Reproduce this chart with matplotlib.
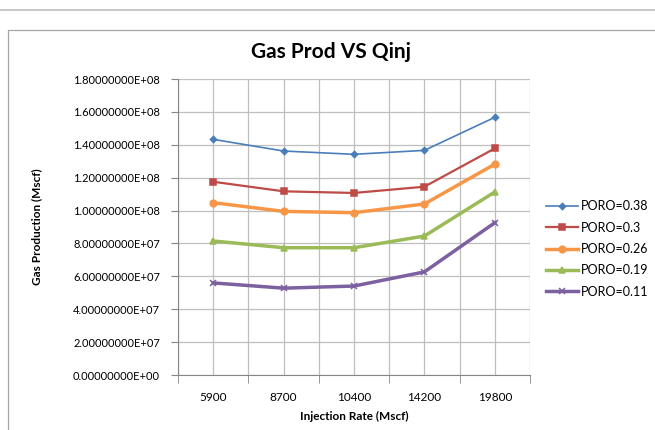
import matplotlib
matplotlib.use("Agg")

import matplotlib.pyplot as plt
from matplotlib.ticker import FuncFormatter, FixedLocator

# Data
rates = ["5900", "8700", "10400", "14200", "19800"]
poro_038 = [1.433e8, 1.362e8, 1.342e8, 1.366e8, 1.567e8]
poro_030 = [1.175e8, 1.117e8, 1.107e8, 1.145e8, 1.378e8]
poro_026 = [1.048e8, 0.995e8, 0.987e8, 1.040e8, 1.282e8]
poro_019 = [0.815e8, 0.774e8, 0.774e8, 0.845e8, 1.113e8]
poro_011 = [0.560e8, 0.528e8, 0.541e8, 0.627e8, 0.926e8]
labels = ["PORO=0.38", "PORO=0.3", "PORO=0.26", "PORO=0.19", "PORO=0.11"]

plt.rcParams["font.family"] = ["Lato", "DejaVu Sans"]

fig = plt.figure(figsize=(6.55, 4.3), dpi=100)

# chart frame like the spreadsheet's chart box
fig.add_artist(plt.Line2D([0, 1], [1 - 10 / 430, 1 - 10 / 430], color="#C8C8C8", lw=1.5))
fig.add_artist(plt.Line2D([8 / 655, 8 / 655, 1], [0, 1 - 30 / 430, 1 - 30 / 430], color="#A6A6A6", lw=0.9))

ax = fig.add_axes([178 / 655, 1 - 375 / 430, 352 / 655, 296 / 430])

x = list(range(len(rates)))
styles = [
    (poro_038, "#4A7EBB", "D", 1.2, 3.2),
    (poro_030, "#BE4B48", "s", 1.6, 4.2),
    (poro_026, "#F79646", "o", 2.5, 4.8),
    (poro_019, "#9BBB59", "^", 2.5, 5.0),
    (poro_011, "#7D60A0", "x", 2.5, 5.0),
]
for (vals, col, mk, lw, ms), lab in zip(styles, labels):
    ax.plot(x, vals, color=col, marker=mk, lw=lw, ms=ms, mew=1.1,
            label=lab, solid_joinstyle="round")

ax.set_xlim(-0.5, len(rates) - 0.5)
ax.set_ylim(0, 1.8e8)
ax.set_yticks([i * 2e7 for i in range(10)])
ax.yaxis.set_major_formatter(FuncFormatter(lambda v, p: "%.8E" % v))

ax.set_xticks(x)
ax.set_xticklabels(rates)
ax.xaxis.set_minor_locator(FixedLocator([i - 0.5 for i in range(len(rates) + 1)]))
ax.tick_params(axis="x", which="major", length=0, pad=12, labelsize=8.5)
ax.tick_params(axis="x", which="minor", length=6, color="#868686", direction="out")
ax.tick_params(axis="y", length=5, color="#868686", labelsize=8, pad=8)

ax.grid(True, which="both", color="#BFBFBF", lw=0.9)
ax.set_axisbelow(True)
for s in ["top", "right"]:
    ax.spines[s].set_visible(False)
for s in ["left", "bottom"]:
    ax.spines[s].set_color("#868686")

ax.set_xlabel("Injection Rate (Mscf)", fontsize=8.5, fontweight="bold", labelpad=6)
ax.set_ylabel("Gas Production (Mscf)", fontsize=8.5, fontweight="bold", labelpad=22)
fig.text(0.505, 1 - 52 / 430, "Gas Prod VS Qinj", ha="center", va="center",
         fontsize=15, fontweight="bold")

fig.legend(loc="center left", bbox_to_anchor=(535 / 655, 1 - 249 / 430),
           frameon=False, fontsize=9, handlelength=2.5, labelspacing=0.75,
           handletextpad=0.3)

fig.savefig("out.png", dpi=100)
